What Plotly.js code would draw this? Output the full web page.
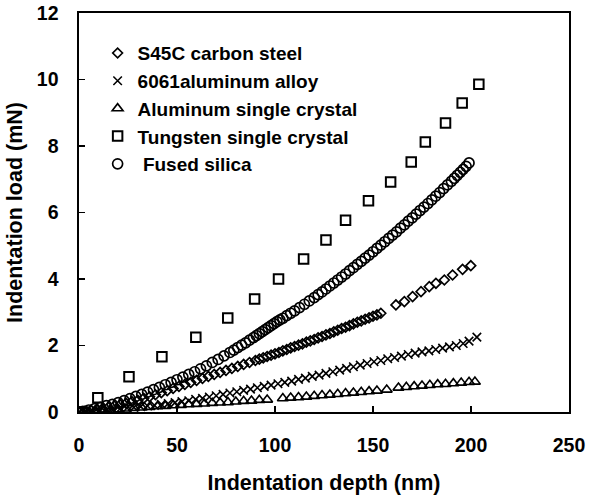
<!DOCTYPE html>
<html>
<head>
<meta charset="utf-8">
<script src="https://cdn.plot.ly/plotly-3.0.1.min.js"></script>
<style>html,body{margin:0;padding:0;background:#fff;}#chart{width:589px;height:497px;}</style>
</head>
<body>
<div id="chart"></div>
<script>
// S45C carbon steel (diamonds)
const steelX = [0,3,6,9,12,15,18,21,24,27,30,33,36,39,42,45,48,51,54,57,60,63,66,69,72,75,78,81,84,87,90,92,94,96,98,100,102,104,106,108,110,112,114,116,118,120,122,124,126,128,130,132,134,136,138,140,142,144,146,148,150,152,154,161.7,166,170.2,174.5,178.7,182.1,186.4,190.6,195.7,199.9];
const steelY = [0,0.02,0.05,0.07,0.10,0.14,0.18,0.22,0.26,0.31,0.35,0.41,0.46,0.52,0.58,0.64,0.71,0.77,0.83,0.89,0.95,1.01,1.07,1.13,1.19,1.25,1.31,1.37,1.43,1.49,1.55,1.59,1.63,1.67,1.71,1.75,1.79,1.84,1.88,1.93,1.97,2.01,2.05,2.10,2.14,2.18,2.23,2.27,2.32,2.36,2.41,2.46,2.51,2.55,2.60,2.65,2.70,2.74,2.79,2.83,2.88,2.92,2.97,3.22,3.32,3.47,3.62,3.77,3.87,3.97,4.12,4.29,4.40];

// 6061 aluminum alloy (x)
const alloyX = [0,3.5,7,10.5,14,17.5,21,24.5,28,31.5,35,38.5,42,45.5,49,52.5,56,59.5,63,66.5,70,73.5,77,80.5,84,87.5,91,94.5,98,101.5,105,108.5,112,115.5,119,122.5,126,129.5,133,136.5,140,143.5,147,150.5,154,157.5,161,164.5,168,171.5,175,178.5,182,185.5,189,192.5,196,199,203];
const alloyY = [0,0.01,0.03,0.04,0.06,0.08,0.10,0.12,0.14,0.16,0.18,0.20,0.23,0.25,0.28,0.31,0.34,0.38,0.41,0.45,0.49,0.53,0.57,0.61,0.65,0.69,0.73,0.77,0.81,0.85,0.89,0.93,0.98,1.02,1.07,1.11,1.16,1.21,1.26,1.31,1.36,1.41,1.46,1.51,1.55,1.60,1.64,1.68,1.73,1.77,1.81,1.84,1.88,1.92,1.96,2.00,2.06,2.13,2.25];

// Aluminum single crystal (triangles)
const alX = [0,4,8,12,16,20,24,28,32,36,40,44,48,52,56,60,64,68,72,76,80,84,88,92,96,104,108,112,116,120,124,128,132,136,140,144,148,152,157,163,167,171,175,179,183,187,191,195,199,202];
const alY = [0,0.02,0.03,0.05,0.06,0.08,0.10,0.12,0.13,0.15,0.17,0.18,0.20,0.21,0.23,0.24,0.25,0.27,0.28,0.29,0.31,0.33,0.34,0.36,0.37,0.41,0.43,0.44,0.46,0.48,0.50,0.52,0.54,0.56,0.58,0.60,0.62,0.64,0.67,0.73,0.75,0.77,0.79,0.81,0.83,0.84,0.86,0.88,0.90,0.91];

// Tungsten single crystal (squares)
const wX = [0,9.6,25.5,42.3,59.6,75.9,89.6,101.8,114.6,126,136,147.7,159,169.5,176.7,187,195.5,204];
const wY = [0,0.43,1.06,1.66,2.25,2.83,3.4,4.0,4.6,5.17,5.77,6.35,6.92,7.52,8.12,8.69,9.29,9.86];

// Fused silica (circles)
const fsX = [0,2,5,8,11,14,17,20,23,26,29,32,35,38,41,44,47,50,53,56,59,62,65,68,71,74,77,79,81,83,85,87,89,90.5,92,93.5,95,96.5,98,99.5,101,102.5,104,106,108,110,112.5,115,117.5,120,122,124,126,128,130,132,134,136,138,140,142,144,146,148,150,152,154,156,158,160,162,164,166,168,170,172,174,176,178,180,182,184,186,188,190,191.5,193,194.5,196,197.5,199];
const fsY = [0,0.02,0.06,0.10,0.14,0.19,0.23,0.28,0.34,0.40,0.47,0.53,0.60,0.67,0.74,0.82,0.89,0.97,1.05,1.13,1.21,1.30,1.39,1.49,1.58,1.69,1.79,1.86,1.94,2.01,2.08,2.16,2.24,2.30,2.36,2.42,2.48,2.54,2.60,2.66,2.72,2.77,2.82,2.90,2.97,3.04,3.14,3.24,3.34,3.44,3.53,3.61,3.70,3.79,3.88,3.97,4.06,4.15,4.25,4.34,4.44,4.53,4.63,4.72,4.82,4.92,5.02,5.12,5.22,5.32,5.42,5.53,5.63,5.74,5.84,5.95,6.06,6.16,6.27,6.38,6.49,6.60,6.72,6.83,6.94,7.03,7.12,7.21,7.30,7.39,7.49];

const names = ['S45C carbon steel','6061aluminum alloy','Aluminum single crystal','Tungsten single crystal',' Fused silica'];
const xTicks = [0,50,100,150,200,250];
const yTicks = [0,2,4,6,8,10,12];

const FONT = 'Liberation Sans, Arial, sans-serif';
function tr(x, y, name, symbol, size, lw) {
  return {x: x, y: y, name: name, type: 'scatter', mode: 'markers',
    marker: {symbol: symbol, size: size, color: '#000', line: {color: '#000', width: lw}}};
}
const data = [
  tr(steelX, steelY, names[0], 'diamond-open', 7.5, 1.7),
  tr(alloyX, alloyY, names[1], 'x-thin-open', 8.5, 1.6),
  tr(alX, alY, names[2], 'triangle-up-open', 9.5, 1.6),
  tr(wX, wY, names[3], 'square-open', 9.5, 2),
  tr(fsX, fsY, names[4], 'circle-open', 10, 1.7)
];

const axisCommon = {
  showline: true, linecolor: '#000', linewidth: 1.6, mirror: true,
  ticks: 'inside', ticklen: 6, tickwidth: 1.2, tickcolor: '#000',
  showgrid: false, zeroline: false,
  tickfont: {family: FONT, size: 19.5, color: '#000', weight: 'bold'}
};
const layout = {
  width: 589, height: 497,
  margin: {l: 79, r: 20, t: 13, b: 85},
  paper_bgcolor: '#fff', plot_bgcolor: '#fff',
  showlegend: true,
  legend: {x: 0.038, y: 0.947, xanchor: 'left', yanchor: 'top', bgcolor: 'rgba(0,0,0,0)',
    font: {family: FONT, size: 19, color: '#000', weight: 'bold'}},
  xaxis: Object.assign({}, axisCommon, {
    range: [0, 250], tickvals: xTicks, ticktext: xTicks.map(String), ticklabelstandoff: 15,
    title: {text: 'Indentation depth (nm)', font: {family: FONT, size: 21.5, color: '#000', weight: 'bold'}, standoff: 20}
  }),
  yaxis: Object.assign({}, axisCommon, {
    range: [0, 12], tickvals: yTicks, ticktext: yTicks.map(String), ticklabelstandoff: 15,
    title: {text: 'Indentation load (mN)', font: {family: FONT, size: 21.5, color: '#000', weight: 'bold'}, standoff: 8}
  })
};
Plotly.newPlot('chart', data, layout, {displayModeBar: false, staticPlot: true});
</script>
</body>
</html>
